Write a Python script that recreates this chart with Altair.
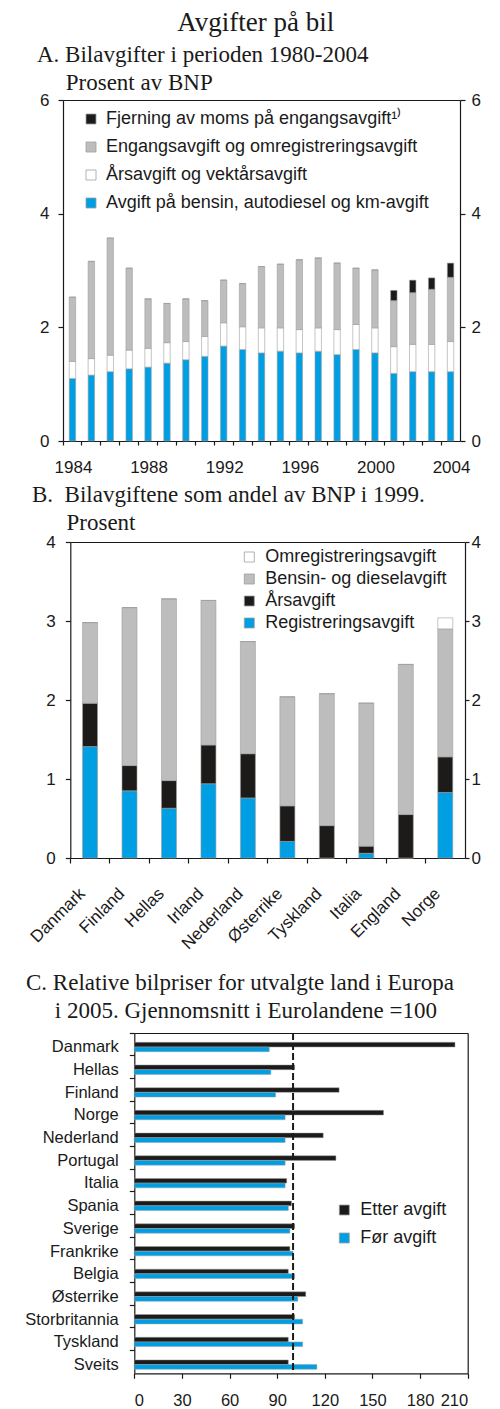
#!/usr/bin/env python3
"""Avgifter på bil: three stacked panels (A, B, C)
"""
import altair as alt
import pandas as pd

OUTPUT_FILE = 'out.html'
SANS = 'Liberation Sans'
SERIF = 'Liberation Serif'
INK = '#1a1a1a'
BLUE = '#009fe3'
GRAY = '#bdbdbd'
BLACK = '#1d1b19'
WHITE = '#ffffff'
EDGE = '#9e9e9e'
NBSP = '\u00a0'
ZWSP = '\u200b'   # keeps the leading spaces from being trimmed

# ---- Panel A: Bilavgifter 1984-2004, prosent av BNP
years = list(range(1984, 2005))
a_bensin = [1.10, 1.16, 1.22, 1.27, 1.30, 1.37, 1.43, 1.49, 1.67, 1.61, 1.55,
            1.58, 1.55, 1.58, 1.52, 1.61, 1.55, 1.19, 1.22, 1.22, 1.22]
a_aars = [0.30, 0.29, 0.29, 0.33, 0.33, 0.36, 0.32, 0.35, 0.41, 0.40, 0.44,
          0.41, 0.41, 0.41, 0.44, 0.44, 0.44, 0.47, 0.48, 0.48, 0.53]
a_engang = [1.13, 1.71, 2.06, 1.44, 0.87, 0.69, 0.75, 0.63, 0.75, 0.76, 1.08,
            1.12, 1.23, 1.23, 1.17, 0.99, 1.02, 0.81, 0.91, 0.97, 1.13]
a_moms = [0, 0, 0, 0, 0, 0, 0, 0, 0, 0, 0,
          0, 0, 0, 0, 0, 0, 0.18, 0.22, 0.20, 0.25]
a_series = ['Fjerning av moms på engangsavgift\u00b9\u207e',
            'Engangsavgift og omregistreringsavgift',
            'Årsavgift og vektårsavgift',
            'Avgift på bensin, autodiesel og km-avgift']
a_colors = [BLACK, GRAY, WHITE, BLUE]

# ---- Panel B: Bilavgiftene som andel av BNP i 1999
countries_b = ['Danmark', 'Finland', 'Hellas', 'Irland', 'Nederland',
               'Østerrike', 'Tyskland', 'Italia', 'England', 'Norge']
b_reg = [1.41, 0.85, 0.63, 0.94, 0.76, 0.21, 0.0, 0.06, 0.0, 0.83]
b_aars = [0.55, 0.32, 0.35, 0.49, 0.56, 0.45, 0.41, 0.09, 0.55, 0.45]
b_bensin = [1.02, 2.00, 2.30, 1.83, 1.42, 1.38, 1.67, 1.81, 1.90, 1.62]
b_omreg = [0, 0, 0, 0, 0, 0, 0, 0, 0, 0.14]
b_series = ['Omregistreringsavgift', 'Bensin- og dieselavgift',
            'Årsavgift', 'Registreringsavgift']
b_colors = [WHITE, GRAY, BLACK, BLUE]

# ---- Panel C: Relative bilpriser 2005, eurolandene = 100
countries_c = ['Danmark', 'Hellas', 'Finland', 'Norge', 'Nederland',
               'Portugal', 'Italia', 'Spania', 'Sverige', 'Frankrike',
               'Belgia', 'Østerrike', 'Storbritannia', 'Tyskland', 'Sveits']
c_etter = [202, 101, 129, 157, 119, 127, 96, 99, 101, 98, 97, 108, 101, 97, 97]
c_foer = [85, 86, 89, 95, 95, 95, 95, 97, 98, 100, 101, 103, 106, 106, 115]
c_series = ['Etter avgift', 'Før avgift']
c_colors = [BLACK, BLUE]
c_reference = [100]

LEFT = 54   # all panels share one origin; this fixes it at x = 8 + LEFT


def long_table(cats, key, stack):
    rows = []
    for order, (name, vals) in enumerate(stack):
        for cat, v in zip(cats, vals):
            rows.append({key: cat, 'series': name, 'value': v, 'ord': order})
    return pd.DataFrame(rows)


def spacer(bottom):
    # invisible rule that fixes the panel's left and bottom extent in the layout
    return alt.Chart(pd.DataFrame({'s': [0]})).mark_rule(
        opacity=0, strokeWidth=0
    ).encode(
        x=alt.value(-LEFT), x2=alt.value(-LEFT),
        y=alt.value(0), y2=alt.value(bottom)
    )


def panel_title(lines, dx, offset):
    return alt.Title(lines, anchor='start', frame='group', dx=dx, offset=offset,
                     font=SERIF, fontSize=23, fontWeight='normal', lineHeight=28,
                     color=INK)


NO_LABELS = dict(title=None, labels=False, ticks=False, domain=True)

# ------------------------------------------------------------------ A
WA, HA = 397, 341
df_a = long_table(years, 'year', [(a_series[3], a_bensin), (a_series[2], a_aars),
                                  (a_series[1], a_engang), (a_series[0], a_moms)])

bars_a = alt.Chart(df_a).mark_bar(
    width=alt.RelativeBandSize(0.34), stroke=EDGE, strokeWidth=0.6
).encode(
    x=alt.X('year:O', scale=alt.Scale(paddingInner=0, paddingOuter=0),
            axis=alt.Axis(title=None, labelAngle=0, bandPosition=0,
                          labelOffset=1, tickSize=4, labelPadding=14,
                          labelExpr="datum.value % 4 == 0 ? datum.label : ''")),
    y=alt.Y('value:Q', stack='zero', scale=alt.Scale(domain=[0, 6], nice=False),
            axis=alt.Axis(title=None, values=[0, 2, 4, 6], orient='left',
                          tickSize=5, labelPadding=9)),
    color=alt.Color('series:N', scale=alt.Scale(domain=a_series, range=a_colors),
                    legend=alt.Legend(title=None, orient='none', legendX=19, legendY=10,
                                      rowPadding=10, labelOffset=6)),
    order=alt.Order('ord:Q'),
)
frame_a = alt.Chart(df_a).mark_point(opacity=0).encode(
    x=alt.X('year:O', axis=alt.Axis(orient='top', **NO_LABELS)),
    y=alt.Y('value:Q', scale=alt.Scale(domain=[0, 6], nice=False),
            axis=alt.Axis(title=None, values=[0, 2, 4, 6], orient='right',
                          tickSize=5, labelPadding=6)),
)
chart_a = alt.layer(bars_a, frame_a, spacer(HA + 40.6)).resolve_axis(
    x='independent', y='independent'
).properties(
    width=WA, height=HA,
    title=panel_title(['A. Bilavgifter i perioden 1980-2004',
                       ZWSP + NBSP * 5 + 'Prosent av BNP'], -26, -4),
)

# ------------------------------------------------------------------ B
B0 = 7.3
WB, HB = 402, 316
df_b = long_table(countries_b, 'land', [(b_series[3], b_reg), (b_series[2], b_aars),
                                        (b_series[1], b_bensin), (b_series[0], b_omreg)])

bars_b = alt.Chart(df_b).mark_bar(
    width=alt.RelativeBandSize(0.38), stroke=EDGE, strokeWidth=0.6
).encode(
    x=alt.X('land:N', sort=countries_b,
            scale=alt.Scale(paddingInner=0, paddingOuter=0, range=[B0, WB]),
            axis=alt.Axis(title=None, labelAngle=-45, labelAlign='right',
                          labelBaseline='middle', bandPosition=0,
                          labelOffset=-7.6, tickSize=5, labelPadding=27.7)),
    y=alt.Y('value:Q', stack='zero', scale=alt.Scale(domain=[0, 4], nice=False),
            axis=alt.Axis(title=None, values=[0, 1, 2, 3, 4], orient='left', offset=-B0,
                          tickSize=5, labelPadding=10)),
    color=alt.Color('series:N', scale=alt.Scale(domain=b_series, range=b_colors),
                    legend=alt.Legend(title=None, orient='none', legendX=177.3, legendY=6,
                                      rowPadding=4, labelOffset=7)),
    order=alt.Order('ord:Q'),
)
frame_b = alt.Chart(df_b).mark_point(opacity=0).encode(
    x=alt.X('land:N', sort=countries_b, axis=alt.Axis(orient='top', **NO_LABELS)),
    y=alt.Y('value:Q', scale=alt.Scale(domain=[0, 4], nice=False),
            axis=alt.Axis(title=None, values=[0, 1, 2, 3, 4], orient='right',
                          tickSize=4, labelPadding=2)),
)
chart_b = alt.layer(bars_b, frame_b, spacer(HB + 111.6)).resolve_axis(
    x='independent', y='independent'
).properties(
    width=WB, height=HB,
    title=panel_title(['B.' + NBSP * 2 + 'Bilavgiftene som andel av BNP i 1999.',
                       ZWSP + NBSP * 6 + 'Prosent'], -31, -2),
)

# ------------------------------------------------------------------ C
C0 = 71.3
WC, HC = 404.7, 340.3
rows_c = []
for name, vals in zip(c_series, [c_etter, c_foer]):
    for land, v in zip(countries_c, vals):
        rows_c.append({'land': land, 'series': name, 'value': v})
df_c = pd.DataFrame(rows_c)

y_c = alt.Scale(paddingInner=0, paddingOuter=0)
x_c = alt.Scale(domain=[0, 210], nice=False, range=[C0, WC])
c_legend = alt.Legend(title=None, orient='none', legendX=272.3, legendY=168,
                      rowPadding=10, labelOffset=7)


def c_bars(name, shift, with_axes):
    y_axis = alt.Axis(title=None, bandPosition=0, labelOffset=3, tickSize=5,
                      offset=-C0, labelPadding=11, labelFontSize=16.5) if with_axes else None
    x_axis = alt.Axis(title=None, values=list(range(0, 211, 30)), tickSize=5,
                      labelPadding=14, labelFontSize=16.5) if with_axes else None
    return alt.Chart(df_c).transform_filter(
        alt.datum.series == name
    ).mark_bar(height=4.7, yOffset=shift, stroke=EDGE, strokeWidth=0.5).encode(
        y=alt.Y('land:N', sort=countries_c, scale=y_c, axis=y_axis),
        x=alt.X('value:Q', scale=x_c, axis=x_axis),
        color=alt.Color('series:N', scale=alt.Scale(domain=c_series, range=c_colors),
                        legend=c_legend),
    )


etter_c = c_bars(c_series[0], 0.3, True)
foer_c = c_bars(c_series[1], 5.0, False)
frame_c = alt.Chart(df_c).mark_point(opacity=0).encode(
    x=alt.X('value:Q', axis=alt.Axis(orient='top', **NO_LABELS)),
    y=alt.Y('land:N', sort=countries_c, axis=alt.Axis(orient='right', **NO_LABELS)),
)
ref_c = alt.Chart(pd.DataFrame({'ref': c_reference})).mark_rule(
    color=BLACK, strokeWidth=2, strokeDash=[7, 3]
).encode(
    x=alt.X('ref:Q', axis=None),
    y=alt.value(0), y2=alt.value(HC)
)
chart_c = alt.layer(etter_c, foer_c, frame_c, ref_c, spacer(HC)).resolve_axis(
    x='independent', y='independent'
).properties(
    width=WC, height=HC,
    title=panel_title(['C. Relative bilpriser for utvalgte land i Europa',
                       ZWSP + NBSP * 5 + 'i 2005. Gjennomsnitt i Eurolandene =100'], -37, 9),
)

chart = alt.concat(
    chart_a, chart_b, chart_c, columns=1, spacing=0
).resolve_scale(
    color='independent'
).properties(
    padding=0,
    title=alt.Title('Avgifter på bil', anchor='start', frame='bounds', dx=168.7, offset=6.6,
                    font=SERIF, fontSize=27, fontWeight='normal', color=INK),
).configure_view(
    stroke='transparent'
).configure_axis(
    labelFont=SANS, labelFontSize=17, labelColor=INK, tickColor=INK,
    tickWidth=1.2, domain=True, domainColor=INK, domainWidth=1.2, grid=False
).configure_legend(
    labelFont=SANS, labelFontSize=18, labelColor=INK, symbolType='square',
    symbolSize=100, symbolStrokeColor=EDGE, symbolStrokeWidth=0.8, padding=0,
    labelLimit=400
)

chart.save(OUTPUT_FILE, embed_options={'renderer': 'svg', 'actions': False})
